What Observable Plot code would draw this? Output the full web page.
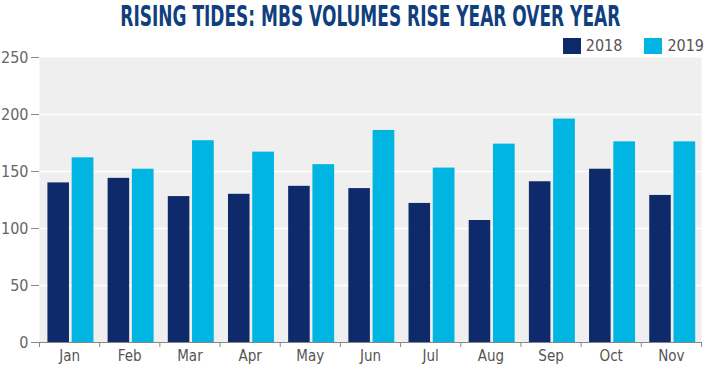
<!DOCTYPE html>
<html>
<head>
<meta charset="utf-8">
<script src="https://cdn.jsdelivr.net/npm/d3@7"></script>
<script src="https://cdn.jsdelivr.net/npm/@observablehq/plot@0.6"></script>
<style>
  body { margin: 0; background: #fff; }
  #wrap { position: relative; width: 717px; height: 369px; font-family: "DejaVu Sans Condensed", "DejaVu Sans", sans-serif; }
  #title { height: 34px; line-height: 34px; text-align: center; padding-right: 20px; box-sizing: border-box; }
  #title span { display: inline-block; font-weight: bold; font-size: 28px; color: #103f7e; transform: scaleX(0.675); transform-origin: center; white-space: nowrap; }
  #legend { position: absolute; top: 36px; right: 13px; display: flex; align-items: center; font-size: 16px; color: #555; }
  #legend .sw { display: inline-block; width: 18px; height: 16px; margin-right: 5px; }
  #legend .item { display: flex; align-items: center; margin-left: 22px; }
</style>
</head>
<body>
<div id="wrap">
  <div id="title"><span>RISING TIDES: MBS VOLUMES RISE YEAR OVER YEAR</span></div>
  <div id="legend"></div>
  <div id="chart"></div>
</div>
<script>
const months = ["Jan","Feb","Mar","Apr","May","Jun","Jul","Aug","Sep","Oct","Nov"];
const years = ["2018","2019"];
const values2018 = [140,144,128,130,137,135,122,107,141,152,129];
const values2019 = [162,152,177,167,156,186,153,174,196,176,176];
const yTicks = [0,50,100,150,200,250];
const colors = ["#0e2a6b", "#00b5e2"];

const data = [];
months.forEach((m, i) => {
  data.push({month: m, idx: i, year: "2018", value: values2018[i]});
  data.push({month: m, idx: i, year: "2019", value: values2019[i]});
});

// legend
const legend = document.getElementById("legend");
years.forEach((y, k) => {
  const it = document.createElement("span");
  it.className = "item";
  it.innerHTML = `<span class="sw" style="background:${colors[k]}"></span>${y}`;
  legend.appendChild(it);
});

// offsets of each year's bar within a month's slot (fraction of slot)
const slot = {"2018": [0.14, 0.498], "2019": [0.543, 0.904]};

const chart = Plot.plot({
  width: 717,
  height: 335,
  marginTop: 23,
  marginBottom: 27,
  marginLeft: 39,
  marginRight: 16,
  style: {fontFamily: '"DejaVu Sans Condensed", "DejaVu Sans", sans-serif', fontSize: "15px", color: "#666", background: "transparent"},
  x: {domain: [0, months.length], axis: null},
  y: {domain: [0, 250], axis: null},
  color: {domain: years, range: colors},
  marks: [
    Plot.frame({fill: "#efefef", stroke: null}),
    Plot.gridY(yTicks.slice(1, -1), {stroke: "#fff", strokeOpacity: 1, strokeWidth: 1.5}),
    Plot.rectY(data, {
      x1: d => d.idx + slot[d.year][0],
      x2: d => d.idx + slot[d.year][1],
      y: "value",
      fill: "year"
    }),
    Plot.ruleY([0], {stroke: "#888", strokeWidth: 1.2}),
    Plot.axisY({ticks: yTicks, label: null, tickSize: 8, tickPadding: 3, stroke: "#888", fill: "#666", fontSize: 16}),
    Plot.axisX({ticks: d3.range(months.length + 1), label: null, tickSize: 5, tickFormat: () => "", stroke: "#888"}),
    Plot.axisX({ticks: d3.range(months.length).map(i => i + 0.5), label: null, tickSize: 0, tickPadding: 8,
      tickFormat: v => months[Math.floor(v)], fill: "#555", fontSize: 15})
  ]
});
document.getElementById("chart").appendChild(chart);
</script>
</body>
</html>
